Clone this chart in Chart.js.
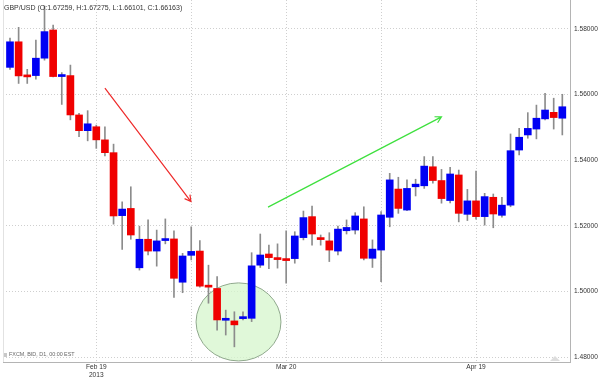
<!DOCTYPE html>
<html>
<head>
<meta charset="utf-8">
<script src="https://cdn.jsdelivr.net/npm/chart.js@4.4.1/dist/chart.umd.min.js"></script>
<style>
   html, body { margin: 0; padding: 0; background: #ffffff; }
</style>
</head>
<body>
<canvas id="chart" width="600" height="378"></canvas>
<script>
// daily GBP/USD candles, one per trading day (x = 1..65)
const opens = [
   1.5683, 1.5761, 1.5656, 1.5658, 1.5711, 1.5797, 1.5655, 1.5658, 1.5538, 1.5490,
   1.5502, 1.5462, 1.5423, 1.5231, 1.5253, 1.5072, 1.5159, 1.5123, 1.5155, 1.5160,
   1.5028, 1.5110, 1.5123, 1.5016, 1.5009, 1.4912, 1.4910, 1.4917, 1.4918, 1.5080,
   1.5114, 1.5099, 1.5096, 1.5100, 1.5164, 1.5228, 1.5160, 1.5154, 1.5123, 1.5185,
   1.5187, 1.5221, 1.5101, 1.5126, 1.5226, 1.5312, 1.5248, 1.5319, 1.5322, 1.5380,
   1.5338, 1.5277, 1.5355, 1.5235, 1.5276, 1.5228, 1.5287, 1.5232, 1.5263, 1.5431,
   1.5477, 1.5495, 1.5526, 1.5546, 1.5528
];
const highs = [
   1.5772, 1.5805, 1.5677, 1.5766, 1.5870, 1.5812, 1.5667, 1.5690, 1.5543, 1.5551,
   1.5507, 1.5502, 1.5449, 1.5273, 1.5319, 1.5199, 1.5218, 1.5187, 1.5221, 1.5185,
   1.5116, 1.5197, 1.5155, 1.5080, 1.5045, 1.4943, 1.4938, 1.4938, 1.5118, 1.5175,
   1.5141, 1.5145, 1.5185, 1.5182, 1.5245, 1.5260, 1.5172, 1.5179, 1.5199, 1.5218,
   1.5240, 1.5258, 1.5157, 1.5243, 1.5360, 1.5348, 1.5340, 1.5342, 1.5411, 1.5411,
   1.5372, 1.5378, 1.5370, 1.5311, 1.5367, 1.5299, 1.5297, 1.5287, 1.5480, 1.5497,
   1.5545, 1.5568, 1.5604, 1.5589, 1.5601
];
const lows = [
   1.5677, 1.5634, 1.5634, 1.5647, 1.5705, 1.5654, 1.5570, 1.5523, 1.5472, 1.5459,
   1.5436, 1.5413, 1.5205, 1.5128, 1.5159, 1.5065, 1.5111, 1.5077, 1.5145, 1.4982,
   1.4996, 1.5096, 1.5013, 1.4964, 1.4882, 1.4867, 1.4831, 1.4913, 1.4908, 1.5073,
   1.5069, 1.5071, 1.5025, 1.5086, 1.5157, 1.5141, 1.5141, 1.5091, 1.5111, 1.5175,
   1.5175, 1.5096, 1.5073, 1.5030, 1.5197, 1.5238, 1.5246, 1.5291, 1.5314, 1.5330,
   1.5269, 1.5270, 1.5212, 1.5216, 1.5220, 1.5202, 1.5194, 1.5226, 1.5258, 1.5416,
   1.5467, 1.5465, 1.5523, 1.5495, 1.5477
];
const closes = [
   1.5761, 1.5657, 1.5654, 1.5711, 1.5792, 1.5655, 1.5658, 1.5538, 1.5490, 1.5511,
   1.5462, 1.5423, 1.5230, 1.5251, 1.5172, 1.5159, 1.5123, 1.5154, 1.5160, 1.5040,
   1.5108, 1.5122, 1.5016, 1.5013, 1.4913, 1.4914, 1.4898, 1.4920, 1.5078, 1.5111,
   1.5103, 1.5097, 1.5094, 1.5169, 1.5225, 1.5175, 1.5158, 1.5126, 1.5190, 1.5195,
   1.5230, 1.5101, 1.5129, 1.5233, 1.5340, 1.5253, 1.5314, 1.5327, 1.5382, 1.5338,
   1.5283, 1.5358, 1.5238, 1.5276, 1.5228, 1.5289, 1.5236, 1.5263, 1.5429, 1.5470,
   1.5497, 1.5528, 1.5553, 1.5530, 1.5563
];

const xTickIdx = [11, 22, 33, 44, 55];
const xTickText = [["Feb 19", "2013"], "", "Mar 20", "", "Apr 19"];
const yTicks = [1.48, 1.50, 1.52, 1.54, 1.56, 1.58];

// drawn notes, in (day index, price)
const redArrow = [[12.0, 1.5620], [21.97, 1.5274]];
const greenArrow = [[30.9, 1.5257], [51.0, 1.5532]];
const circleCenter = [27.48, 1.4907];
const circleRadius = [4.92, 0.0119];

const titleText = "GBP/USD (O:1.67259, H:1.67275, L:1.66101, C:1.66163)";
const footText = "FXCM, BID, D1, 00:00 EST";

const days = opens.map((o, i) => i + 1);
const bodyColors = days.map((d, i) => closes[i] >= opens[i] ? "#0000f4" : "#f00000");

function arrow(ctx, x1, y1, x2, y2, color)
{
   const a = Math.atan2(y2 - y1, x2 - x1);
   const len = 7;
   ctx.strokeStyle = color;
   ctx.lineWidth = 1.2;
   ctx.beginPath();
   ctx.moveTo(x1, y1);
   ctx.lineTo(x2, y2);
   ctx.moveTo(x2 - len * Math.cos(a - 0.5), y2 - len * Math.sin(a - 0.5));
   ctx.lineTo(x2, y2);
   ctx.lineTo(x2 - len * Math.cos(a + 0.5), y2 - len * Math.sin(a + 0.5));
   ctx.stroke();
}

const notes =
{
   id: "notes",
   beforeDatasetsDraw(chart)
   {
      const ctx = chart.ctx;
      const xs = chart.scales.x, ys = chart.scales.y;
      const cx = xs.getPixelForValue(circleCenter[0]);
      const cy = ys.getPixelForValue(circleCenter[1]);
      const rx = xs.getPixelForValue(circleCenter[0] + circleRadius[0]) - cx;
      const ry = cy - ys.getPixelForValue(circleCenter[1] + circleRadius[1]);
      ctx.save();
      ctx.beginPath();
      ctx.ellipse(cx, cy, rx, ry, 0, 0, Math.PI * 2);
      ctx.fillStyle = "rgba(214, 246, 204, 0.75)";
      ctx.fill();
      ctx.strokeStyle = "#8fa88c";
      ctx.lineWidth = 1;
      ctx.stroke();
      // left frame line
      const area = chart.chartArea;
      ctx.strokeStyle = "#e2e2e2";
      ctx.beginPath();
      ctx.moveTo(area.left + 0.5, area.top);
      ctx.lineTo(area.left + 0.5, area.bottom);
      ctx.stroke();
      ctx.restore();
   },
   afterDatasetsDraw(chart)
   {
      const ctx = chart.ctx;
      const xs = chart.scales.x, ys = chart.scales.y;
      const px = p => [xs.getPixelForValue(p[0]), ys.getPixelForValue(p[1])];
      ctx.save();
      let a = px(redArrow[0]), b = px(redArrow[1]);
      arrow(ctx, a[0], a[1], b[0], b[1], "#ee2a2a");
      a = px(greenArrow[0]); b = px(greenArrow[1]);
      arrow(ctx, a[0], a[1], b[0], b[1], "#3ee03e");
      ctx.restore();
   },
   afterDraw(chart)
   {
      const ctx = chart.ctx;
      const area = chart.chartArea;
      ctx.save();
      ctx.fillStyle = "#333333";
      ctx.font = "7px 'Liberation Sans', Arial, sans-serif";
      ctx.textBaseline = "middle";
      ctx.fillText(titleText, area.left + 1, 8);
      ctx.fillStyle = "#666666";
      ctx.font = "5.4px 'Liberation Sans', Arial, sans-serif";
      ctx.fillText(footText, area.left + 6, area.bottom - 7);
      ctx.fillStyle = "#c8c8c8";
      ctx.fillRect(area.left + 1, area.bottom - 9, 3, 4);
      // watermark triangle
      ctx.fillStyle = "#dddddd";
      ctx.beginPath();
      ctx.moveTo(area.right - 20, area.bottom - 1);
      ctx.lineTo(area.right - 15, area.bottom - 6);
      ctx.lineTo(area.right - 10, area.bottom - 1);
      ctx.fill();
      ctx.restore();
   }
};

const canvasCtx = document.getElementById("chart").getContext("2d");

new Chart(canvasCtx,
{
   type: "bar",
   data:
   {
      datasets:
      [
         {
            label: "body",
            data: days.map((d, i) => ({ x: d, y: [opens[i], closes[i]] })),
            backgroundColor: bodyColors,
            borderWidth: 0,
            barThickness: 7,
            minBarLength: 2,
            grouped: false
         },
         {
            label: "wick",
            data: days.map((d, i) => ({ x: d, y: [lows[i], highs[i]] })),
            backgroundColor: "#8c8c8c",
            borderWidth: 0,
            barThickness: 1,
            grouped: false
         }
      ]
   },
   options:
   {
      animation: false,
      responsive: false,
      layout:
      {
         padding: { left: 3, top: 0, right: 0, bottom: 0 }
      },
      plugins:
      {
         legend: { display: false },
         tooltip: { enabled: false }
      },
      scales:
      {
         x:
         {
            type: "linear",
            min: 0.19,
            max: 65.89,
            offset: false,
            afterBuildTicks: s => { s.ticks = xTickIdx.map(v => ({ value: v })); },
            afterFit: s =>
            {
               s.height = 16;
               s.paddingLeft = 0;
               s.paddingRight = 0;
            },
            ticks:
            {
               autoSkip: false,
               maxRotation: 0,
               padding: 1,
               color: "#333333",
               font: { family: "'Liberation Sans', Arial, sans-serif", size: 6.6, lineHeight: 1.25 },
               callback: v => xTickText[xTickIdx.indexOf(v)]
            },
            grid:
            {
               color: "#cfcfcf",
               offset: false,
               drawTicks: false
            },
            border:
            {
               color: "#b4b4b4",
               dash: [1, 2]
            }
         },
         y:
         {
            position: "right",
            min: 1.47848,
            max: 1.58884,
            afterBuildTicks: s => { s.ticks = yTicks.map(v => ({ value: v })); },
            afterFit: s =>
            {
               s.width = 30;
               s.paddingTop = 0;
               s.paddingBottom = 0;
            },
            ticks:
            {
               padding: 4,
               color: "#333333",
               font: { family: "'Liberation Sans', Arial, sans-serif", size: 6.6 },
               callback: v => v.toFixed(5)
            },
            grid:
            {
               color: "#cfcfcf",
               drawTicks: false
            },
            border:
            {
               color: "#b4b4b4",
               dash: [1, 2]
            }
         }
      }
   },
   plugins: [notes]
});
</script>
</body>
</html>
